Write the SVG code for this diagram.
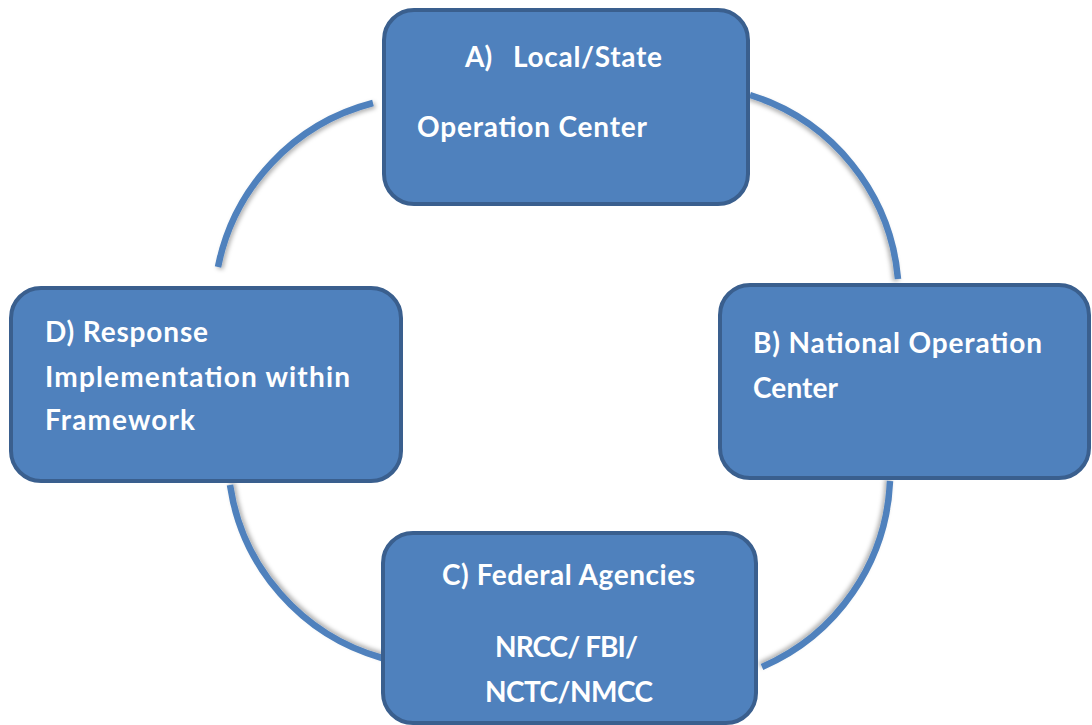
<svg xmlns="http://www.w3.org/2000/svg" width="1092" height="725" viewBox="0 0 1092 725">
<defs>
<filter id="shTL" x="-20%" y="-20%" width="140%" height="140%"><feDropShadow dx="2" dy="2" stdDeviation="2" flood-color="#000" flood-opacity="0.3"/></filter>
<filter id="shTR" x="-20%" y="-20%" width="140%" height="140%"><feDropShadow dx="-2" dy="2" stdDeviation="2" flood-color="#000" flood-opacity="0.3"/></filter>
<filter id="shBL" x="-20%" y="-20%" width="140%" height="140%"><feDropShadow dx="2" dy="-2" stdDeviation="2" flood-color="#000" flood-opacity="0.3"/></filter>
<filter id="shBR" x="-20%" y="-20%" width="140%" height="140%"><feDropShadow dx="-2" dy="-2" stdDeviation="2" flood-color="#000" flood-opacity="0.3"/></filter>
<style>
.box{fill:#4f81bd;stroke:#3a5f8e;stroke-width:4}
.arc{fill:none;stroke:#4f81bd;stroke-width:6.5}
.t{font-family:Lato,"Open Sans","Liberation Sans",sans-serif;font-weight:bold;font-size:28px;fill:#fff}
</style>
</defs>
<rect width="1092" height="725" fill="#fff"/>
<g id="connectors">
<path class="arc" filter="url(#shTL)" d="M373,103 A212,212 0 0 0 218,267"/>
<path class="arc" filter="url(#shTR)" d="M750,95 A212,212 0 0 1 898,279"/>
<path class="arc" filter="url(#shBR)" d="M890,481 A212,212 0 0 1 762,667"/>
<path class="arc" filter="url(#shBL)" d="M382,658 A212,212 0 0 1 230,485"/>
</g>
<g id="nodeA">
<rect class="box" x="384" y="10" width="364" height="194" rx="30"/>
<text class="t" x="465" y="67">A)</text>
<text class="t" x="513" y="67" textLength="149">Local/State</text>
<text class="t" x="417" y="137" textLength="230">Operation Center</text>
</g>
<g id="nodeB">
<rect class="box" x="720" y="285" width="369" height="193" rx="30"/>
<text class="t" x="753" y="353" textLength="289">B) National Operation</text>
<text class="t" x="753" y="398" textLength="85">Center</text>
</g>
<g id="nodeC">
<rect class="box" x="383" y="533" width="373" height="190" rx="30"/>
<text class="t" x="442" y="585" textLength="253">C) Federal Agencies</text>
<text class="t" x="495" y="657" textLength="143">NRCC/ FBI/</text>
<text class="t" x="485" y="702" textLength="168">NCTC/NMCC</text>
</g>
<g id="nodeD">
<rect class="box" x="11" y="288" width="390" height="193" rx="30"/>
<text class="t" x="45" y="342" textLength="163">D) Response</text>
<text class="t" x="45" y="387" textLength="305">Implementation within</text>
<text class="t" x="45" y="430" textLength="150">Framework</text>
</g>
</svg>
